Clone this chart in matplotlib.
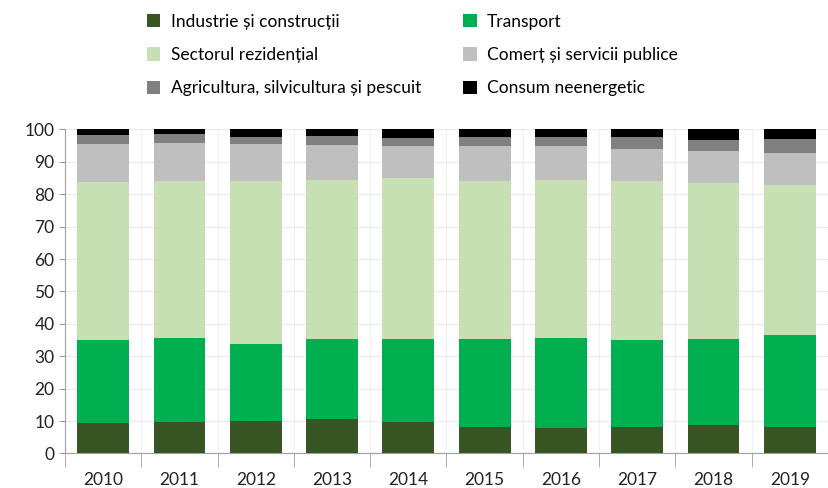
import numpy as np
from matplotlib import pyplot as plt
from matplotlib.patches import Patch

plt.rcParams['font.family'] = ['Lato', 'DejaVu Sans']

years = ['2010', '2011', '2012', '2013', '2014', '2015', '2016', '2017', '2018', '2019']
industrie = [9.4, 9.7, 10.0, 10.6, 9.7, 8.3, 7.8, 8.1, 8.7, 8.3]
transport = [25.7, 26.0, 23.9, 24.8, 25.7, 27.1, 27.9, 26.8, 26.5, 28.3]
rezidential = [48.6, 48.3, 50.1, 49.1, 49.5, 48.8, 48.8, 49.3, 48.3, 46.3]
comert = [11.8, 11.8, 11.5, 10.7, 10.0, 10.7, 10.4, 9.7, 9.9, 9.8]
agricultura = [2.8, 2.7, 2.2, 2.8, 2.5, 2.8, 2.8, 3.8, 3.4, 4.4]
neenergetic = [1.7, 1.5, 2.3, 2.0, 2.6, 2.3, 2.3, 2.3, 3.2, 2.9]

series = [industrie, transport, rezidential, comert, agricultura, neenergetic]
labels = ['Industrie și construcții', 'Transport', 'Sectorul rezidențial',
          'Comerț și servicii publice', 'Agricultura, silvicultura și pescuit',
          'Consum neenergetic']
colors = ['#375623', '#00B050', '#C6E0B4', '#BFBFBF', '#808080', '#000000']

fig = plt.figure(figsize=(8.29, 4.88), dpi=100)
ax = fig.add_axes([0.0784, 0.0707, 0.9204, 0.664])

x = np.arange(len(years))
bottom = np.zeros(len(years))
for vals, c in zip(series, colors):
    ax.bar(x, vals, width=0.68, bottom=bottom, color=c, edgecolor='none', zorder=3)
    bottom += np.array(vals)

ax.set_xlim(-0.5, len(years) - 0.5)
ax.set_ylim(0, 100)
ax.set_yticks(np.arange(0, 101, 10))
ax.tick_params(axis='y', labelsize=12.5, length=4, color='#A0A0A0', colors='#222222')

# labels at centres, tick marks at the category boundaries
ax.set_xticks(x)
ax.set_xticklabels(years)
ax.tick_params(axis='x', which='major', length=0, pad=13, labelsize=12.5, colors='#222222')
ax.set_xticks(np.arange(-0.5, len(years)), minor=True)
ax.tick_params(axis='x', which='minor', length=10, color='#A0A0A0')

ax.grid(axis='y', color='#EBEBEB', lw=0.9, zorder=0)
ax.grid(axis='x', which='minor', color='#F0F0F0', lw=0.9, zorder=0)

ax.spines.right.set_visible(False)
ax.spines.top.set_visible(False)
ax.spines.left.set_color('#A0A0A0')
ax.spines.bottom.set_color('#A0A0A0')

# legend filled row by row like the original
order = [0, 2, 4, 1, 3, 5]
handles = [Patch(facecolor=colors[i], edgecolor='none') for i in order]
fig.legend(handles, [labels[i] for i in order], ncol=2, loc='upper left',
           bbox_to_anchor=(0.158, 1.004), frameon=False, fontsize=12.5,
           handlelength=0.8, handleheight=0.8, handletextpad=0.6,
           columnspacing=2.4, labelspacing=1.0)

plt.savefig('out.png', dpi=100)
